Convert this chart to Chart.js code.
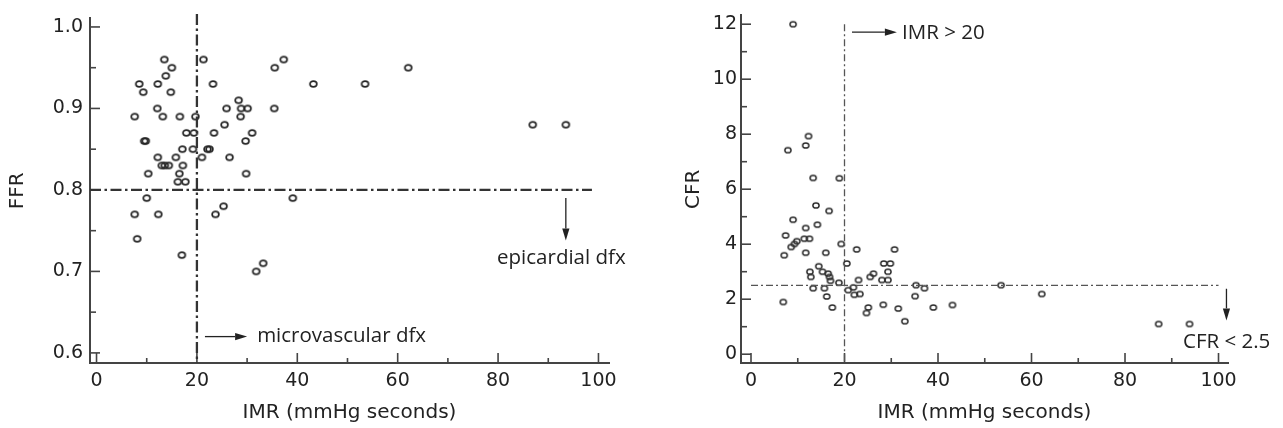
<!DOCTYPE html>
<html><head><meta charset="utf-8">
<script src="https://cdn.jsdelivr.net/npm/chart.js@4.4.1/dist/chart.umd.min.js"></script>
<style>
html,body{margin:0;padding:0;background:#fff;width:1283px;height:428px;overflow:hidden}
#c1{position:absolute;left:0;top:0}
#c2{position:absolute;left:640px;top:0}
</style></head><body>
<canvas id="c1" width="640" height="428"></canvas>
<canvas id="c2" width="643" height="428"></canvas>
<script>
// ---- data ----
const ffrIMR = [13.5,21.3,15.0,13.8,8.5,12.2,23.2,9.3,14.8,12.1,7.6,13.2,16.6,19.7,9.5,9.8,17.9,19.4,17.1,19.2,22.1,22.5,21.0,12.2,15.8,13.0,13.6,14.4,17.2,10.3,16.5,29.8,16.2,17.7,25.9,28.3,28.8,30.1,28.7,25.5,23.4,31.0,29.7,26.5,35.4,35.5,37.3,43.2,53.5,62.1,86.9,93.5,10.0,39.1,7.6,12.3,23.7,25.3,8.1,17.0,33.2,31.8];
const ffrVal = [0.96,0.96,0.95,0.94,0.93,0.93,0.93,0.92,0.92,0.90,0.89,0.89,0.89,0.89,0.86,0.86,0.87,0.87,0.85,0.85,0.85,0.85,0.84,0.84,0.84,0.83,0.83,0.83,0.83,0.82,0.82,0.82,0.81,0.81,0.90,0.91,0.90,0.90,0.89,0.88,0.87,0.87,0.86,0.84,0.90,0.95,0.96,0.93,0.93,0.95,0.88,0.88,0.79,0.79,0.77,0.77,0.77,0.78,0.74,0.72,0.71,0.70];
const cfrIMR = [9.0,7.9,11.7,12.3,13.3,18.9,13.9,16.7,9.0,11.7,14.2,7.4,11.4,12.5,9.8,9.3,8.6,19.3,7.1,11.7,16.0,22.6,30.7,20.5,14.5,12.6,12.8,15.3,16.5,16.8,17.0,18.8,13.3,15.7,16.2,17.4,6.9,20.8,21.9,22.1,23.3,23.0,25.5,26.2,25.1,24.7,28.0,28.3,28.4,29.8,29.3,29.3,31.5,32.9,35.3,35.1,37.1,39.0,43.1,53.5,62.2,87.2,93.8];
const cfrVal = [12.0,7.42,7.59,7.93,6.41,6.4,5.41,5.21,4.89,4.59,4.71,4.32,4.2,4.2,4.11,4.01,3.9,4.01,3.6,3.69,3.69,3.81,3.81,3.3,3.2,3.0,2.81,3.0,2.93,2.81,2.67,2.6,2.4,2.4,2.1,1.7,1.9,2.33,2.43,2.16,2.19,2.7,2.81,2.93,1.7,1.5,2.7,1.8,3.3,3.3,3.0,2.7,1.66,1.2,2.51,2.11,2.4,1.7,1.79,2.51,2.19,1.1,1.1];

const imrTicks = [0,20,40,60,80,100];
const imrMinor = [10,30,50,70,90];
const ffrTicks = [0.6,0.7,0.8,0.9,1.0];
const ffrMinor = [0.65,0.75,0.85,0.95];
const cfrTicks = [0,2,4,6,8,10,12];
const cfrMinor = [1,3,5,7,9,11];

const imrCut = 20, ffrCut = 0.8, cfrCut = 2.5;
const xTitle = 'IMR (mmHg seconds)';
const ffrTitle = 'FFR';
const cfrTitle = 'CFR';
const txtMicro = 'microvascular dfx';
const txtEpi = 'epicardial dfx';
const txtImr = 'IMR > 20';
const txtCfr = 'CFR < 2.5';

// ---- styles ----
const textColor = '#222';
const axisColor = '#444';
const tickFont = {family:'DejaVu Sans', size:19};
const titleFont = {family:'DejaVu Sans', size:20};
const noteFont = '20.5px "Open Sans"';

function ellipse(rx, ry, lw, col){
  const c = document.createElement('canvas');
  c.width = Math.ceil(2*rx+lw+2); c.height = Math.ceil(2*ry+lw+2);
  const g = c.getContext('2d');
  g.strokeStyle = col; g.lineWidth = lw;
  g.beginPath(); g.ellipse(c.width/2, c.height/2, rx, ry, 0, 0, Math.PI*2); g.stroke();
  return c;
}

const deco = {
  id:'deco',
  afterDraw(chart, args, o){
    const ctx = chart.ctx, xs = chart.scales.x, ys = chart.scales.y, ca = chart.chartArea;
    ctx.save();
    const line = (x1,y1,x2,y2)=>{ctx.beginPath();ctx.moveTo(x1,y1);ctx.lineTo(x2,y2);ctx.stroke();};
    // inward tick marks
    ctx.strokeStyle = axisColor; ctx.lineWidth = 1.6; ctx.setLineDash([]);
    o.xMajor.forEach(v=>{const x=xs.getPixelForValue(v); line(x,ca.bottom,x,ca.bottom-10);});
    o.xMinor.forEach(v=>{const x=xs.getPixelForValue(v); line(x,ca.bottom,x,ca.bottom-5);});
    o.yMajor.forEach(v=>{const y=ys.getPixelForValue(v); line(ca.left,y,ca.left+10,y);});
    o.yMinor.forEach(v=>{const y=ys.getPixelForValue(v); line(ca.left,y,ca.left+6,y);});
    // cut-off lines
    ctx.strokeStyle = o.cutColor; ctx.lineWidth = o.cutWidth; ctx.setLineDash(o.dash);
    const vx = xs.getPixelForValue(imrCut);
    line(vx, ys.getPixelForValue(o.vTop), vx, ca.bottom);
    const hy = ys.getPixelForValue(o.hCut);
    line(xs.getPixelForValue(o.hFrom), hy, xs.getPixelForValue(o.hTo), hy);
    ctx.setLineDash([]);
    // arrows
    ctx.strokeStyle = '#222'; ctx.fillStyle = '#222'; ctx.lineWidth = 1.3;
    o.arrows.forEach(a=>{
      const x1=xs.getPixelForValue(a[0]), y1=ys.getPixelForValue(a[1]);
      const x2=xs.getPixelForValue(a[2]), y2=ys.getPixelForValue(a[3]);
      const ang=Math.atan2(y2-y1,x2-x1), hl=12, hw=3.6;
      const bx=x2-hl*Math.cos(ang), by=y2-hl*Math.sin(ang);
      line(x1,y1,bx,by);
      ctx.beginPath(); ctx.moveTo(x2,y2);
      ctx.lineTo(bx+hw*Math.sin(ang), by-hw*Math.cos(ang));
      ctx.lineTo(bx-hw*Math.sin(ang), by+hw*Math.cos(ang));
      ctx.closePath(); ctx.fill();
    });
    // notes
    ctx.font = noteFont; ctx.fillStyle = textColor; ctx.textAlign='left';
    o.notes.forEach(n=>{ ctx.textBaseline = n[3]; ctx.fillText(n[0], xs.getPixelForValue(n[1]), ys.getPixelForValue(n[2])); });
    ctx.restore();
  }
};

function makeChart(id, xv, yv, cfg){
  const pts = xv.map((x,i)=>({x:x, y:yv[i]}));
  return new Chart(document.getElementById(id), {
    type:'scatter',
    data:{datasets:[{data:pts, pointStyle:cfg.marker, pointRadius:4, showLine:false}]},
    options:{
      responsive:false, animation:false, devicePixelRatio:1,
      layout:{padding:{top:12, right:cfg.padRight, left:0, bottom:0}},
      plugins:{legend:{display:false}, tooltip:{enabled:false}, deco:cfg.deco},
      scales:{
        x:{type:'linear', position:'bottom', min:cfg.xMin, max:cfg.xMax,
          afterBuildTicks:s=>{s.ticks = imrTicks.map(v=>({value:v}));},
          afterFit:s=>{s.height = 65;},
          grid:{display:false, drawTicks:false},
          border:{display:true, color:axisColor, width:2},
          ticks:{padding:7, font:tickFont, color:textColor, maxRotation:0, autoSkip:false, callback:v=>String(v)},
          title:{display:true, text:xTitle, font:titleFont, color:textColor, padding:{top:0,bottom:3}}
        },
        y:{type:'linear', position:'left', min:cfg.yMin, max:cfg.yMax,
          afterBuildTicks:s=>{s.ticks = cfg.yTicks.map(v=>({value:v}));},
          afterFit:s=>{s.width = cfg.yWidth;},
          grid:{display:false, drawTicks:false},
          border:{display:true, color:axisColor, width:2},
          ticks:{padding:cfg.yPad, font:tickFont, color:textColor, autoSkip:false, callback:cfg.yFmt},
          title:{display:true, text:cfg.yTitle, font:titleFont, color:textColor, padding:{top:cfg.yTitlePad,bottom:0}}
        }
      }
    },
    plugins:[deco]
  });
}

makeChart('c1', ffrIMR, ffrVal, {
  marker: ellipse(3.4,2.8,1.7,'#262626'),
  padRight:31, xMin:-1.3, xMax:102.1, yMin:0.5876, yMax:1.0105,
  yTicks:ffrTicks, yWidth:90, yPad:7, yFmt:v=>v.toFixed(1), yTitle:ffrTitle, yTitlePad:6,
  deco:{xMajor:imrTicks, xMinor:imrMinor, yMajor:ffrTicks, yMinor:ffrMinor,
    cutColor:'#333', cutWidth:2.3, dash:[11,3.5,2.5,3.5], vTop:1.016, hCut:ffrCut, hFrom:-1.3, hTo:98.7,
    arrows:[[93.5,0.79,93.5,0.738],[21.6,0.62,30.0,0.62]],
    notes:[[txtEpi,79.8,0.709,'alphabetic'],[txtMicro,32.0,0.62,'middle']]}
});

makeChart('c2', cfrIMR, cfrVal, {
  marker: ellipse(3.1,2.6,1.5,'#2e2e2e'),
  padRight:55, xMin:-2.14, xMax:102.03, yMin:-0.32, yMax:12.32,
  yTicks:cfrTicks, yWidth:101, yPad:4, yFmt:v=>String(v), yTitle:cfrTitle, yTitlePad:42,
  deco:{xMajor:imrTicks, xMinor:imrMinor, yMajor:cfrTicks, yMinor:cfrMinor,
    cutColor:'#555', cutWidth:1.3, dash:[7,3,2,3], vTop:12.0, hCut:cfrCut, hFrom:0, hTo:100,
    arrows:[[101.7,2.38,101.7,1.23],[21.6,11.71,31.2,11.71]],
    notes:[[txtCfr,92.4,0.22,'alphabetic'],[txtImr,32.3,11.68,'middle']]}
});
</script>
</body></html>
